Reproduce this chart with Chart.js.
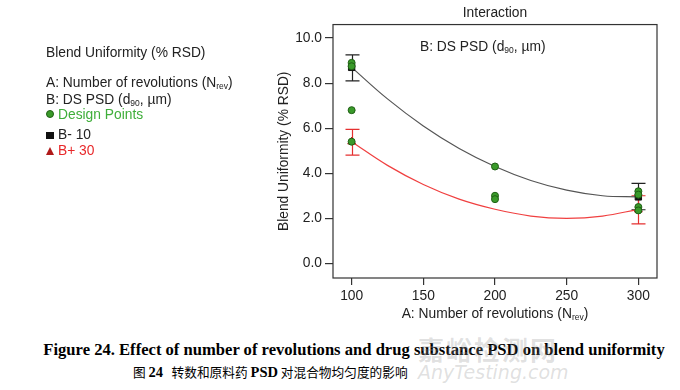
<!DOCTYPE html>
<html>
<head>
<meta charset="utf-8">
<script src="https://cdn.jsdelivr.net/npm/chart.js@4"></script>
<style>
  body { margin: 0; background: #fff; }
  #wrap { position: relative; width: 680px; height: 390px; overflow: hidden; font-family: "Liberation Sans", Arial, sans-serif; color: #222; }
  #plot { position: absolute; left: 0; top: 0; }
  .t { position: absolute; white-space: nowrap; font-size: 13.8px; line-height: 16px; }
  sub { font-size: 8.5px; vertical-align: -2px; line-height: 0; }
  .dot { display: inline-block; width: 6px; height: 6px; border-radius: 50%; background: #3a9a2a; border: 1px solid #1f5f14; margin-right: 4px; vertical-align: 1px; }
  .sq { display: inline-block; width: 8px; height: 7px; background: #111; margin-right: 4px; vertical-align: 0px; }
  .tri { display: inline-block; width: 0; height: 0; border-left: 4.5px solid transparent; border-right: 4.5px solid transparent; border-bottom: 8px solid #b01a1a; margin-right: 4px; vertical-align: 0px; }
  .cap1 { position: absolute; left: 0; width: 680px; text-align: center; top: 340px; font-family: "Liberation Serif", serif; font-weight: bold; font-size: 16.6px; color: #000; margin-left: 14px; }
  .cap2 { position: absolute; left: 133px; top: 362px; font-family: "Noto Sans CJK SC", sans-serif; font-size: 12.7px; color: #000; white-space: nowrap; }
  .cap2 b { font-family: "Liberation Serif", serif; font-size: 14.5px; }
  .wm1 { position: absolute; left: 418px; top: 330px; font-family: "Noto Sans CJK SC", sans-serif; font-weight: bold; font-size: 26px; color: rgba(150,150,150,0.3); letter-spacing: 2px; }
  .wm2 { position: absolute; left: 418px; top: 361px; font-family: "DejaVu Sans", sans-serif; font-style: italic; font-size: 19px; color: rgba(150,150,150,0.3); }
</style>
</head>
<body>
<div id="wrap">
  <canvas id="plot" width="680" height="330"></canvas>

  <div class="t" style="left:46px; top:45px;">Blend Uniformity (% RSD)</div>
  <div class="t" style="left:46px; top:75px;">A: Number of revolutions (N<sub>rev</sub>)</div>
  <div class="t" style="left:46px; top:92px;">B: DS PSD (d<sub>90</sub>, µm)</div>
  <div class="t" style="left:46px; top:107px; color:#3fae3a;"><span class="dot"></span>Design Points</div>
  <div class="t" style="left:46px; top:127px;"><span class="sq"></span>B- 10</div>
  <div class="t" style="left:46px; top:143px; color:#e8282a;"><span class="tri"></span>B+ 30</div>

  <div class="t" style="left:420px; top:39px;">B: DS PSD (d<sub>90</sub>, µm)</div>
  <div class="t" style="left:335px; width:320px; text-align:center; top:306px;">A: Number of revolutions (N<sub>rev</sub>)</div>

  <div class="cap1">Figure 24. Effect of number of revolutions and drug substance PSD on blend uniformity</div>
  <div class="wm1">嘉峪检测网</div>
  <div class="wm2">AnyTesting.com</div>
  <div class="cap2">图 <b>24</b>&nbsp;&nbsp;&nbsp;转数和原料药 <b>PSD</b> 对混合物均匀度的影响</div>
</div>

<script>
// fitted curves
const revs = [100, 125, 150, 175, 200, 225, 250, 275, 300];
const fitLow = [8.7, 7.3, 6.1, 5.1, 4.3, 3.68, 3.25, 3.0, 2.95];   // B- 10
const fitHigh = [5.4, 4.35, 3.5, 2.85, 2.4, 2.1, 2.0, 2.1, 2.4];  // B+ 30

// design points
const designX = [100, 100, 100, 100, 200, 200, 200, 300, 300, 300, 300];
const designY = [8.9, 8.75, 6.8, 5.4, 4.3, 3.0, 2.85, 3.2, 3.05, 2.5, 2.35];

// factor levels with error bars
const levelX = [100, 300];
const lowMean = [8.7, 2.95];
const lowErrLo = [8.1, 2.38];
const lowErrHi = [9.25, 3.55];
const highMean = [5.4, 2.38];
const highErrLo = [4.8, 1.75];
const highErrHi = [5.95, 3.0];

const yTicks = [0, 2, 4, 6, 8, 10];
const xTicks = [100, 150, 200, 250, 300];

const pts = (xs, ys) => xs.map((x, i) => ({ x: x, y: ys[i] }));

const errorBars = {
    id: 'errorBars',
    beforeDatasetsDraw(chart) {
        const ctx = chart.ctx;
        const xs = chart.scales.x, ys = chart.scales.y;
        const groups = [
            { lo: lowErrLo, hi: lowErrHi, color: '#222' },
            { lo: highErrLo, hi: highErrHi, color: '#e53030' }
        ];
        ctx.save();
        ctx.lineWidth = 1.2;
        groups.forEach(g => {
            ctx.strokeStyle = g.color;
            levelX.forEach((x, i) => {
                const px = Math.round(xs.getPixelForValue(x)) + 0.5;
                const y1 = ys.getPixelForValue(g.lo[i]);
                const y2 = ys.getPixelForValue(g.hi[i]);
                ctx.beginPath();
                ctx.moveTo(px, y1); ctx.lineTo(px, y2);
                ctx.moveTo(px - 7, y1); ctx.lineTo(px + 7, y1);
                ctx.moveTo(px - 7, y2); ctx.lineTo(px + 7, y2);
                ctx.stroke();
            });
        });
        ctx.restore();
    },
    afterDraw(chart) {
        const a = chart.chartArea;
        const ctx = chart.ctx;
        ctx.save();
        ctx.strokeStyle = '#333';
        ctx.lineWidth = 1.2;
        ctx.strokeRect(a.left, a.top, a.right - a.left, a.bottom - a.top);
        ctx.restore();
    }
};

new Chart(document.getElementById('plot'), {
    type: 'scatter',
    data: {
        datasets: [
            {
                label: 'Design Points',
                data: pts(designX, designY),
                backgroundColor: '#3a9a2a',
                borderColor: '#1f5f14',
                borderWidth: 1,
                pointRadius: 3.5,
                order: 0
            },
            {
                label: 'B- 10',
                data: pts(levelX, lowMean),
                pointStyle: 'rect',
                backgroundColor: '#111',
                borderColor: '#111',
                pointRadius: 4.5,
                order: 1
            },
            {
                label: 'B+ 30',
                data: pts(levelX, highMean),
                pointStyle: 'triangle',
                backgroundColor: '#b01a1a',
                borderColor: '#b01a1a',
                pointRadius: 4.5,
                order: 1
            },
            {
                type: 'line',
                label: 'fit B- 10',
                data: pts(revs, fitLow),
                borderColor: '#555',
                borderWidth: 1.2,
                pointRadius: 0,
                tension: 0.4,
                fill: false,
                order: 2
            },
            {
                type: 'line',
                label: 'fit B+ 30',
                data: pts(revs, fitHigh),
                borderColor: '#f04040',
                borderWidth: 1.2,
                pointRadius: 0,
                tension: 0.4,
                fill: false,
                order: 2
            }
        ]
    },
    options: {
        responsive: false,
        animation: false,
        layout: { padding: { left: 268, right: 23, top: 0, bottom: 0 } },
        plugins: {
            legend: { display: false },
            tooltip: { enabled: false },
            title: {
                display: true,
                text: 'Interaction',
                fullSize: false,
                color: '#222',
                font: { family: 'Liberation Sans', size: 13.8, weight: 'normal' },
                padding: { top: 5, bottom: 3 }
            }
        },
        scales: {
            x: {
                type: 'linear',
                min: 87,
                max: 313,
                afterFit(scale) { scale.height = 52; },
                afterBuildTicks(scale) { scale.ticks = xTicks.map(v => ({ value: v })); },
                grid: { drawOnChartArea: false, drawTicks: true, tickLength: 7, color: '#333', lineWidth: 1.2 },
                border: { display: false },
                ticks: { color: '#222', padding: 3, font: { family: 'Liberation Sans', size: 13.8 } }
            },
            y: {
                type: 'linear',
                min: -0.65,
                max: 10.6,
                afterFit(scale) { scale.width = 65; },
                afterBuildTicks(scale) { scale.ticks = yTicks.map(v => ({ value: v })); },
                grid: { drawOnChartArea: false, drawTicks: true, tickLength: 8, color: '#333', lineWidth: 1.2 },
                border: { display: false },
                ticks: {
                    color: '#222',
                    padding: 3,
                    font: { family: 'Liberation Sans', size: 13.8 },
                    callback: v => v.toFixed(1)
                },
                title: {
                    display: true,
                    text: 'Blend Uniformity (% RSD)',
                    color: '#222',
                    font: { family: 'Liberation Sans', size: 13.8 },
                    padding: { top: 8, bottom: 0 }
                }
            }
        }
    },
    plugins: [errorBars]
});
</script>
</body>
</html>
